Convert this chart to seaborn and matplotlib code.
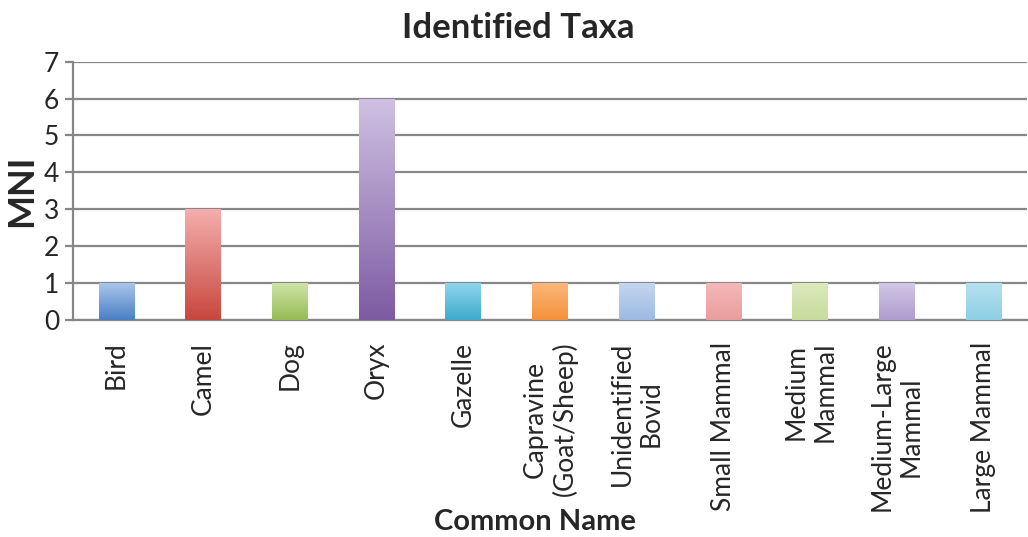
import matplotlib
matplotlib.use('Agg')
import matplotlib.pyplot as plt
import numpy as np
import pandas as pd
import seaborn as sns
from matplotlib.colors import LinearSegmentedColormap

names = ["Bird", "Camel", "Dog", "Oryx", "Gazelle", "Capravine\n(Goat/Sheep)",
         "Unidentified\nBovid", "Small Mammal", "Medium\nMammal",
         "Medium-Large\nMammal", "Large Mammal"]
mni = [1, 3, 1, 6, 1, 1, 1, 1, 1, 1, 1]

# gradient (top, bottom) for each bar, excel-ish
tops = ["#a9c6ea", "#f4aeac", "#cfe3a6", "#cfc0e2", "#8ed6ec", "#fbb77a",
        "#c4d6f0", "#f5b8b8", "#dce9bd", "#d3c6e6", "#b5e1ef"]
bottoms = ["#4a7fc4", "#c8473f", "#97bb55", "#7d5ba3", "#3eaacb", "#f4913a",
           "#9db9e3", "#e99e9c", "#c6dc9c", "#ae9ccd", "#8dcfe4"]

df = pd.DataFrame({"name": names, "mni": mni})

sns.set_style("white")
plt.rcParams['font.family'] = ['Lato', 'DejaVu Sans']

fig, ax = plt.subplots(figsize=(10.28, 5.37), dpi=100)
fig.subplots_adjust(left=0.071, right=0.999, top=0.885, bottom=0.405)

sns.barplot(data=df, x="name", y="mni", color="white", width=0.41, ax=ax, zorder=3)

for p, t, b in zip(ax.patches, tops, bottoms):
    x0, y0 = p.get_x(), p.get_y()
    w, h = p.get_width(), p.get_height()
    cmap = LinearSegmentedColormap.from_list("g", [b, t])
    grad = np.linspace(0, 1, 100).reshape(-1, 1)
    im = ax.imshow(grad, cmap=cmap, aspect="auto", origin="lower",
                   extent=[x0, x0 + w, y0, y0 + h], zorder=3)
    im.set_clip_path(p)
    p.set_facecolor("none")
    p.set_edgecolor("none")

ax.set_xlim(-0.5, 10.5)
ax.set_ylim(0, 7)
ax.set_yticks(range(0, 8))
ax.yaxis.grid(True, color="#878787", linewidth=1.6, zorder=1)
ax.set_axisbelow(True)

for s in ["top", "right"]:
    ax.spines[s].set_visible(False)
for s in ["left", "bottom"]:
    ax.spines[s].set_color("#878787")
    ax.spines[s].set_linewidth(1.6)

ax.set_xticks(np.arange(-0.5, 11, 1), minor=True)
ax.tick_params(axis="x", which="minor", length=7, width=1.6, color="#878787", direction="out")
ax.tick_params(axis="x", which="major", length=0, pad=16)
ax.tick_params(axis="y", length=6, width=1.6, color="#878787", direction="out", labelsize=19, pad=4)
ax.yaxis.set_tick_params(left=True)

ax.set_xticks(range(len(names)))
ax.set_xticklabels(names, rotation=90, fontsize=19, ha="center", va="top",
                   multialignment="center")

ax.set_xlabel("")
ax.set_ylabel("MNI", fontsize=26, fontweight="bold", labelpad=4)
fig.text(535 / 1028, 1 - 522 / 537, "Common Name", fontsize=21, fontweight="bold",
         ha="center", va="center")
fig.text(518 / 1028, 1 - 28 / 537, "Identified Taxa", fontsize=25, fontweight="bold",
         ha="center", va="center")

fig.savefig("out.png", dpi=100)
